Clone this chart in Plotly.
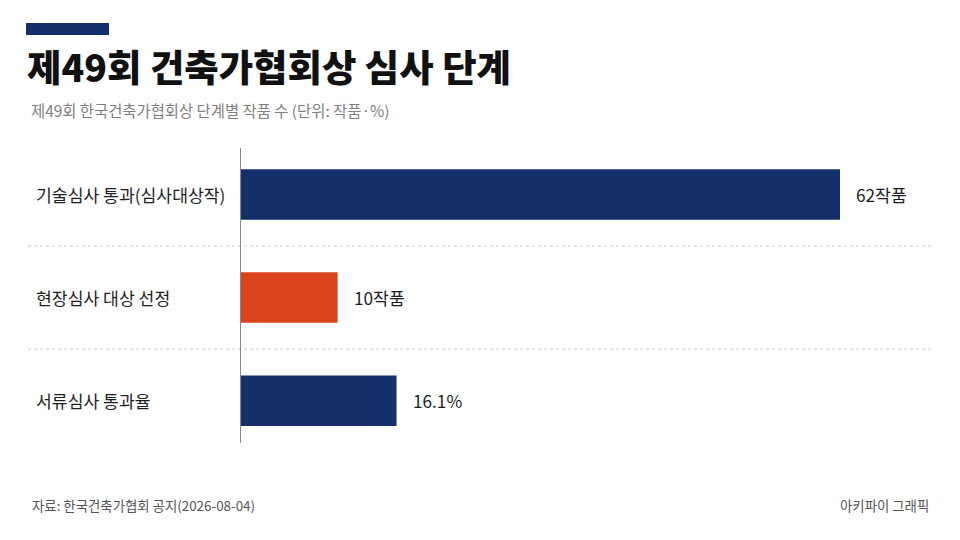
import plotly.graph_objects as go

categories = ["기술심사 통과(심사대상작)", "현장심사 대상 선정", "서류심사 통과율"]
values = [62, 10, 16.1]
value_labels = ["62작품", "10작품", "16.1%"]
bar_colors = ["#13306b", "#d9441c", "#13306b"]

title = "제49회 건축가협회상 심사 단계"
subtitle = "제49회 한국건축가협회상 단계별 작품 수 (단위: 작품·%)"
source = "자료: 한국건축가협회 공지(2026-08-04)"
credit = "아키파이 그래픽"

FONT = "Noto Sans CJK KR"
W, H = 960, 540
ML, MR, MT, MB = 241, 30, 148, 97
plot_w = W - ML - MR
xmax = values[0] * plot_w / 599.0

ypos = list(range(len(categories)))

fig = go.Figure()
fig.add_trace(go.Bar(
    x=values, y=ypos, orientation="h",
    marker=dict(color=bar_colors, line=dict(width=0)),
    width=0.49, hoverinfo="skip", showlegend=False,
))

def px_to_paper_x(px):
    return (px - ML) / plot_w

def px_to_paper_y(py):
    return (H - MB - py) / (H - MT - MB)

annotations = []
for i, (c, v, lab) in enumerate(zip(categories, values, value_labels)):
    annotations.append(dict(
        x=px_to_paper_x(34), xref="paper", y=i, yref="y", text=c,
        xanchor="left", yanchor="middle", showarrow=False,
        font=dict(family=FONT, size=17.2, color="#1e1e1e"),
    ))
    annotations.append(dict(
        x=v, xref="x", y=i, yref="y", text=lab, xshift=14,
        xanchor="left", yanchor="middle", showarrow=False,
        font=dict(family=FONT, size=17.2, color="#1e1e1e"),
    ))

annotations += [
    dict(x=px_to_paper_x(25), xref="paper", y=px_to_paper_y(66), yref="paper",
         text=title, xanchor="left", yanchor="middle", showarrow=False,
         font=dict(family=FONT, size=37.4, color="#111111", weight=900)),
    dict(x=px_to_paper_x(29), xref="paper", y=px_to_paper_y(110), yref="paper",
         text=subtitle, xanchor="left", yanchor="middle", showarrow=False,
         font=dict(family=FONT, size=15.4, color="#808080")),
    dict(x=px_to_paper_x(30), xref="paper", y=px_to_paper_y(505), yref="paper",
         text=source, xanchor="left", yanchor="middle", showarrow=False,
         font=dict(family=FONT, size=13.4, color="#555555")),
    dict(x=px_to_paper_x(931), xref="paper", y=px_to_paper_y(505), yref="paper",
         text=credit, xanchor="right", yanchor="middle", showarrow=False,
         font=dict(family=FONT, size=13.4, color="#555555")),
]

shapes = [
    dict(type="rect", xref="paper", yref="paper",
         x0=px_to_paper_x(26), x1=px_to_paper_x(109),
         y0=px_to_paper_y(35), y1=px_to_paper_y(23),
         fillcolor="#13306b", line=dict(width=0)),
]
for g in [0.5, 1.5]:
    shapes.append(dict(type="line", xref="paper", yref="y",
                       x0=px_to_paper_x(28), x1=px_to_paper_x(931), y0=g, y1=g,
                       line=dict(color="#cccccc", width=1, dash="dot"), layer="below"))

fig.update_layout(
    width=W, height=H,
    margin=dict(l=ML, r=MR, t=MT, b=MB, pad=0),
    paper_bgcolor="#ffffff", plot_bgcolor="#ffffff",
    font=dict(family=FONT),
    xaxis=dict(range=[0, xmax], visible=False, fixedrange=True),
    yaxis=dict(range=[2.41, -0.45], showticklabels=False, showgrid=False, zeroline=False,
               showline=True, linecolor="#888888", linewidth=1, fixedrange=True),
    bargap=0.5,
    annotations=annotations,
    shapes=shapes,
)

fig.write_html("out.html", config={"displayModeBar": False},
               post_script="document.body.style.margin='0';document.body.style.overflow='hidden';")
